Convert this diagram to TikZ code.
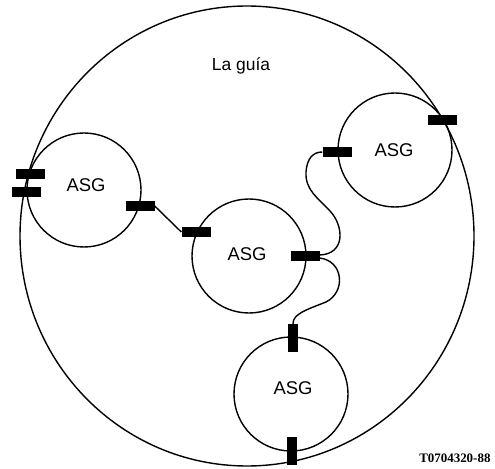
\documentclass[tikz,border=0pt]{standalone}
\usepackage{fontspec}
\setmainfont{Liberation Sans}
\newfontfamily\codefont{Liberation Serif}
\begin{document}
\begin{tikzpicture}[x=1bp,y=-1bp,
  unit/.style={circle,draw,line width=1.4bp,minimum size=114bp,inner sep=0pt},
  hpad/.style={fill=black,minimum width=29bp,minimum height=10bp,inner sep=0pt},
  vpad/.style={fill=black,minimum width=10bp,minimum height=28bp,inner sep=0pt},
  link/.style={line width=1.4bp},
  tag/.style={font=\fontsize{18.5}{20}\selectfont}]
\useasboundingbox (0,0) rectangle (495,469);

% outer ring (the guide)
\draw[link] (247,236) ellipse [x radius=227, y radius=230];

% the four ASG units
\node[unit] (u1) at (84,190) {};
\node[unit] (u2) at (249,256) {};
\node[unit] (u3) at (395,150) {};
\node[unit] (u4) at (291,394) {};

\node[tag] (t1) at (86,185) {ASG};
\node[tag] (t2) at (247,254) {ASG};
\node[tag] (t3) at (394,150) {ASG};
\node[tag] (t4) at (293,388) {ASG};

% connection pads
\node[hpad] (pa) at (30,174) {};
\node[hpad] (pb) at (26,192) {};
\node[hpad] (pc) at (140,206) {};
\node[hpad] (pd) at (196,232) {};
\node[hpad] (pe) at (305,256) {};
\node[hpad] (pf) at (337,152) {};
\node[hpad] (pg) at (442,120) {};
\node[vpad] (ph) at (293,338) {};
\node[vpad] (pi) at (292,451) {};

% links between units
\draw[link] (pc.east) -- (pd.west);
\draw[link] ([yshift=1bp]pe.east) .. controls +(26,-1) and +(14,15) .. (330,211)
  .. controls +(-12,-13) and +(-1,18) .. (306,172)
  .. controls +(1,-14) and +(-9,0) .. (pf.west);
\draw[link] ([yshift=-2bp]pe.east) .. controls +(24,3) and +(20,-10) .. (326,302)
  .. controls +(-20,8) and +(0,-10) .. (ph.north);

% captions
\node[font=\fontsize{17.5}{19}\selectfont] (guide) at (241,66) {La guía};
\node[font=\codefont\bfseries\fontsize{13}{14}\selectfont, anchor=east] (code) at (494,458) {T0704320-88};
\end{tikzpicture}
\end{document}
